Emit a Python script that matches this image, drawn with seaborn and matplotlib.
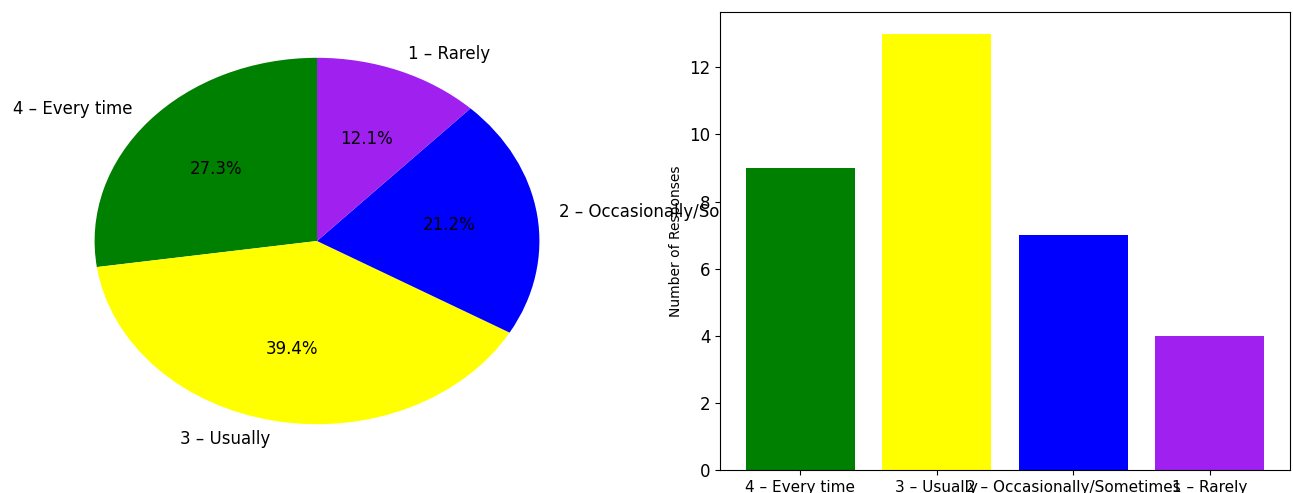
import matplotlib
matplotlib.use("Agg")
import matplotlib.pyplot as plt
import seaborn as sns

# Respostas por categoria (ordem do gráfico)
categorias = ["4 – Every time", "3 – Usually", "2 – Occasionally/Sometimes", "1 – Rarely"]
respostas = [9, 13, 7, 4]
cores = ["green", "yellow", "blue", "#a020f0"]

plt.rcParams["font.family"] = ["DejaVu Sans"]
plt.rcParams["font.size"] = 12

fig = plt.figure(figsize=(12.93, 4.93), dpi=100)

# Pizza (esticada como na imagem original)
ax1 = fig.add_axes([39 / 1293, 23 / 493, 556 / 1293, 458 / 493])
ax1.pie(respostas, labels=categorias, colors=cores, autopct="%1.1f%%", startangle=90)
ax1.set_aspect("auto")

# Barras
ax2 = fig.add_axes([720 / 1293, 23 / 493, 570 / 1293, 458 / 493])
sns.barplot(x=categorias, y=respostas, hue=categorias, palette=cores, saturation=1,
            legend=False, ax=ax2)
ax2.set_ylabel("Number of Responses", fontsize=10)
ax2.set_xlabel("")
ax2.set_xlim(-0.59, 3.59)
ax2.set_ylim(0, 13 * 1.05)
ax2.tick_params(axis="y", labelsize=12)
ax2.tick_params(axis="x", labelsize=11)

fig.savefig("out.png", dpi=100)
